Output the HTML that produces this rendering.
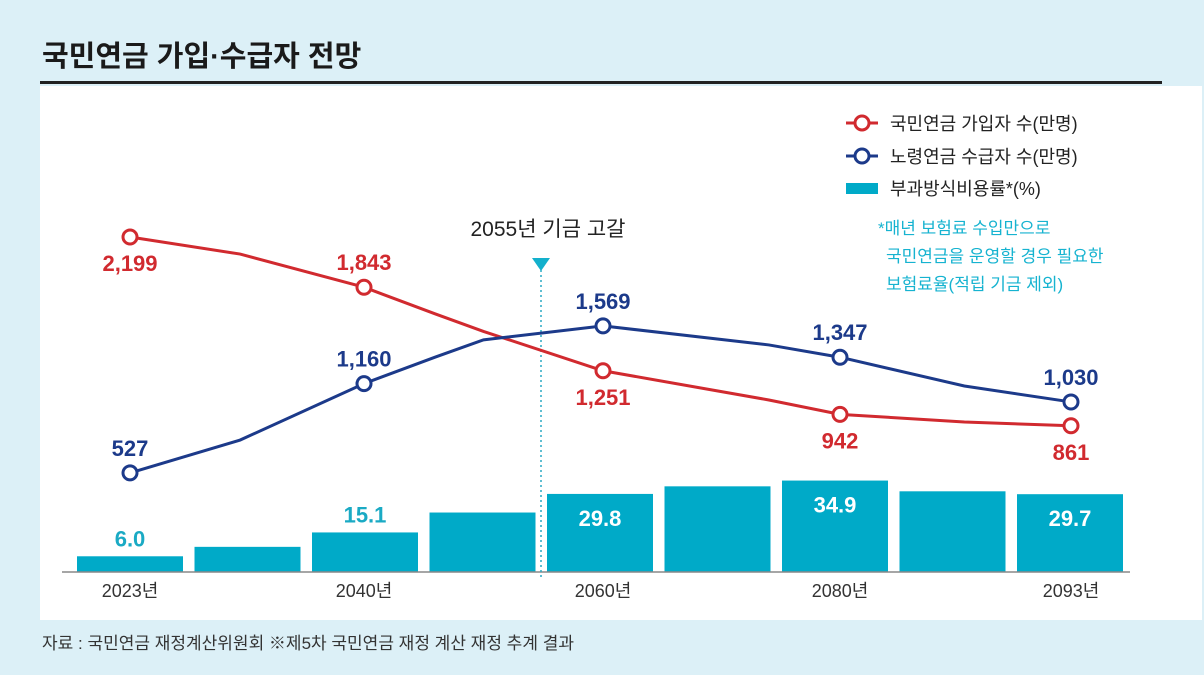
<!DOCTYPE html>
<html><head><meta charset="utf-8">
<style>
body{margin:0;width:1204px;height:675px;background:#dcf0f7;overflow:hidden;font-family:"Liberation Sans","Noto Sans CJK KR",sans-serif}
svg{position:absolute;left:0;top:0}
</style></head>
<body>
<svg width="1204" height="675">
<rect x="40" y="86" width="1162" height="534" fill="#ffffff"/>
<text x="42" y="66" font-size="29" font-weight="bold" fill="#1a1a1a" font-family="'Liberation Sans','Noto Sans CJK KR',sans-serif">국민연금 가입·수급자 전망</text>
<rect x="40" y="81" width="1122" height="3" fill="#222"/>
<g id="bars"></g>
<line x1="62" y1="572" x2="1130" y2="572" stroke="#888" stroke-width="1.5"/>
<line x1="541" y1="270" x2="541" y2="580" stroke="#29a9c4" stroke-width="1.5" stroke-dasharray="2,3"/>
<polygon points="532,258 550,258 541,271" fill="#13b0cc"/>
<text x="548" y="236" text-anchor="middle" font-size="21" fill="#222" font-family="'Liberation Sans Narrow','Liberation Sans','Noto Sans CJK KR',sans-serif">2055년 기금 고갈</text>
<g id="lines"></g>
<g id="xlabels"></g>
<g font-size="18" fill="#222" font-family="'Liberation Sans','Noto Sans CJK KR',sans-serif">
<line x1="846" y1="123" x2="878" y2="123" stroke="#d12a2f" stroke-width="3"/><circle cx="862" cy="123" r="7" fill="#fff" stroke="#d12a2f" stroke-width="3"/>
<text x="890" y="130">국민연금 가입자 수(만명)</text>
<line x1="846" y1="156" x2="878" y2="156" stroke="#1c3a8a" stroke-width="3"/><circle cx="862" cy="156" r="7" fill="#fff" stroke="#1c3a8a" stroke-width="3"/>
<text x="890" y="163">노령연금 수급자 수(만명)</text>
<rect x="846" y="183" width="32" height="11" fill="#00aac8"/>
<text x="890" y="195">부과방식비용률*(%)</text>
</g>
<g font-size="17" fill="#16b3d0" font-family="'Liberation Sans','Noto Sans CJK KR',sans-serif">
<text x="878" y="234">*매년 보험료 수입만으로</text>
<text x="886" y="262">국민연금을 운영할 경우 필요한</text>
<text x="886" y="290">보험료율(적립 기금 제외)</text>
</g>
<text x="42" y="649" font-size="17" fill="#333" font-family="'Liberation Sans','Noto Sans CJK KR',sans-serif">자료 : 국민연금 재정계산위원회  ※제5차 국민연금 재정 계산 재정 추계 결과</text>
</svg>
<script>
const barValues=[6.0,9.6,15.1,22.7,29.8,32.7,34.9,30.8,29.7];
const barLabels=["6.0","","15.1","","29.8","","34.9","","29.7"];
const lineYears=[2023,2031,2040,2046,2050,2060,2074,2080,2087,2093];
const subscribers=[2199,2078,1843,1653,1530,1251,1044,942,888,861];
const recipients=[527,760,1160,1349,1470,1569,1434,1347,1143,1030];
const markedYears=[2023,2040,2060,2080,2093];
const xTickLabels=["2023년","2040년","2060년","2080년","2093년"];
const NS="http://www.w3.org/2000/svg";
function mk(t,a,p){const e=document.createElementNS(NS,t);for(const k in a)e.setAttribute(k,a[k]);p.appendChild(e);return e;}
const anchorsY=[2023,2040,2060,2080,2093],anchorsX=[130,364,603,840,1071];
function xYear(y){for(let i=0;i<anchorsY.length-1;i++){if(y<=anchorsY[i+1]||i==anchorsY.length-2){const t=(y-anchorsY[i])/(anchorsY[i+1]-anchorsY[i]);return anchorsX[i]+t*(anchorsX[i+1]-anchorsX[i]);}}}
function yLine(v){return 237+(2199-v)*0.1411;}
function xBar(i){return 130+i*117.5;}
function yBar(v){return 572-v*2.62;}
const bg=document.getElementById('bars');
barValues.forEach((v,i)=>{
 const r=mk('rect',{x:xBar(i)-53,y:yBar(v),width:106,height:572-yBar(v),fill:'#00aac8'},bg);
 
 
 if(barLabels[i]){
  const inside=v>25;
  const t=mk('text',{x:xBar(i),y:inside?yBar(v)+32:yBar(v)-10,'text-anchor':'middle','font-size':22,'font-weight':'bold',fill:inside?'#fff':'#1aaac4','font-family':"'Liberation Sans Narrow','Liberation Sans',sans-serif"},bg);
  t.textContent=barLabels[i];
  
  
 }
});
const lg=document.getElementById('lines');
function series(vals,color,name,above){
 const p=mk('polyline',{points:lineYears.map((y,i)=>xYear(y)+','+yLine(vals[i])).join(' '),fill:'none',stroke:color,'stroke-width':3},lg);
 
 
 lineYears.forEach((y,i)=>{
  if(markedYears.indexOf(y)<0)return;
  const c=mk('circle',{cx:xYear(y),cy:yLine(vals[i]),r:7,fill:'#fff',stroke:color,'stroke-width':3},lg);
  
  
  const t=mk('text',{x:xYear(y),y:above[i]?yLine(vals[i])-17:yLine(vals[i])+34,'text-anchor':'middle','font-size':22,'font-weight':'bold',fill:color,'font-family':"'Liberation Sans Narrow','Liberation Sans',sans-serif"},lg);
  t.textContent=vals[i].toLocaleString('en-US');
  
  
 });
}
series(subscribers,'#d12a2f','subscribers',[false,0,true,0,0,false,0,false,0,false]);
series(recipients,'#1c3a8a','recipients',[true,0,true,0,0,true,0,true,0,true]);
const xg=document.getElementById('xlabels');
markedYears.forEach((y,i)=>{
 const t=mk('text',{x:xYear(y),y:597,'text-anchor':'middle','font-size':18,fill:'#333','font-family':"'Liberation Sans Narrow','Liberation Sans','Noto Sans CJK KR',sans-serif"},xg);
 t.textContent=xTickLabels[i];
 
 
});
</script>
</body></html>
